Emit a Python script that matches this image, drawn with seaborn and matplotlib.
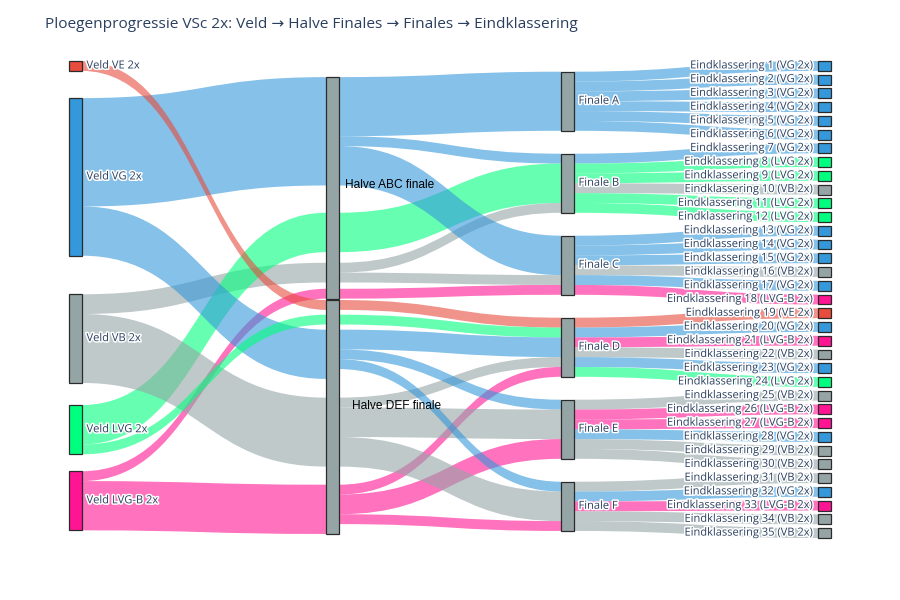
import matplotlib
matplotlib.use("Agg")
import matplotlib.pyplot as plt
import matplotlib.patheffects as pe
from matplotlib.path import Path
from matplotlib.patches import PathPatch, Rectangle
import seaborn as sns

# ---------------- data ----------------
categories = ["VE", "VG", "VB", "LVG", "LVG-B"]
veld_labels = ["Veld VE 2x", "Veld VG 2x", "Veld VB 2x", "Veld LVG 2x", "Veld LVG-B 2x"]
halve_labels = ["Halve ABC finale", "Halve DEF finale"]
veld_to_abc = [0, 11, 2, 4, 1]
veld_to_def = [1, 5, 7, 1, 5]
finale_labels = ["Finale A", "Finale B", "Finale C", "Finale D", "Finale E", "Finale F"]
finale_halve = [0, 0, 0, 1, 1, 1]
finale_sizes = [6, 6, 6, 6, 6, 5]
rank_cats = ["VG", "VG", "VG", "VG", "VG", "VG", "VG", "LVG", "LVG", "VB",
             "LVG", "LVG", "VG", "VG", "VG", "VB", "VG", "LVG-B", "VE", "VG",
             "LVG-B", "VB", "VG", "LVG", "VB", "LVG-B", "LVG-B", "VG", "VB", "VB",
             "VB", "VG", "LVG-B", "VB", "VB"]
title = "Ploegenprogressie VSc 2x: Veld \u2192 Halve Finales \u2192 Finales \u2192 Eindklassering"

# ---------------- style / layout ----------------
cat_colors = {"VE": "#e74c3c", "VG": "#3498db", "VB": "#95a5a6",
              "LVG": "#00ff7f", "LVG-B": "#ff1493"}
mid_node_color = "#95a5a6"
LINK_ALPHA = 0.6
COL_X = [69, 326, 561, 818]
NODE_W = 12.5
TOP, BOTTOM = 61, 538
EIND_PAD = 3.89
FINALE_TOP, FINALE_PAD = 71.7, 22.9
veld_centers = [0.0104, 0.243, 0.582, 0.773, 0.922]     # fraction of [TOP, BOTTOM]
halve_centers = [0.266, 0.7463]
halve_group_order = [["VG", "LVG", "VB", "LVG-B"], ["VE", "LVG", "VG", "VB", "LVG-B"]]
halve_group_gaps = [[2.77, 1.08, 0.64], [0.49, 0.52, 1.9, 1.84]]
halve_label_offset = [(6.5, -3), (13.5, -11)]
TEXT_COLOR = "#2a3f5f"
LABEL_SIZE = 8.0
TITLE_SIZE = 11.1

sns.set_theme(style="white")
plt.rcParams["font.family"] = ["Open Sans", "DejaVu Sans"]

n_eind = len(rank_cats)
ky = (BOTTOM - TOP - (n_eind - 1) * EIND_PAD) / n_eind
H = BOTTOM - TOP

nodes = {}
links = []

# veld nodes
for i, lab in enumerate(veld_labels):
    h = (veld_to_abc[i] + veld_to_def[i]) * ky
    c = TOP + veld_centers[i] * H
    nodes[("veld", i)] = dict(col=0, top=c - h / 2, h=h, color=cat_colors[categories[i]], label=lab)

# halve nodes
halve_vals = [veld_to_abc, veld_to_def]
for j, lab in enumerate(halve_labels):
    h = (sum(halve_vals[j]) + sum(halve_group_gaps[j])) * ky
    c = TOP + halve_centers[j] * H
    nodes[("halve", j)] = dict(col=1, top=c - h / 2, h=h, color=mid_node_color, label=lab)

# finale nodes
y = FINALE_TOP
for f, lab in enumerate(finale_labels):
    h = finale_sizes[f] * ky
    nodes[("fin", f)] = dict(col=2, top=y, h=h, color=mid_node_color, label=lab)
    y += h + FINALE_PAD

# eind nodes
for r, cat in enumerate(rank_cats):
    nodes[("eind", r)] = dict(col=3, top=TOP + r * (ky + EIND_PAD), h=ky,
                              color=cat_colors[cat],
                              label=f"Eindklassering {r + 1} ({cat} 2x)")

# links: veld -> halve
for j in range(2):
    for i, cat in enumerate(categories):
        v = halve_vals[j][i]
        if v > 0:
            links.append(dict(src=("veld", i), tgt=("halve", j), val=v, cat=cat))
# halve -> finale
rank_final = []
for f, s in enumerate(finale_sizes):
    rank_final += [f] * s
for f in range(len(finale_labels)):
    j = finale_halve[f]
    for cat in halve_group_order[j]:
        v = sum(1 for r, c in enumerate(rank_cats) if c == cat and rank_final[r] == f)
        if v > 0:
            links.append(dict(src=("halve", j), tgt=("fin", f), val=v, cat=cat))
# finale -> eind
for r, cat in enumerate(rank_cats):
    links.append(dict(src=("fin", rank_final[r]), tgt=("eind", r), val=1, cat=cat))

# ---------------- link slot positions ----------------
for L in links:
    L["y0"] = None
    L["y1"] = None

# veld out side
for i in range(len(veld_labels)):
    n = nodes[("veld", i)]
    y = n["top"]
    for L in sorted([L for L in links if L["src"] == ("veld", i)], key=lambda L: nodes[L["tgt"]]["top"]):
        L["y0"] = y
        y += L["val"] * ky

# halve in/out sides, grouped by category
for j in range(2):
    n = nodes[("halve", j)]
    y = n["top"]
    gaps = halve_group_gaps[j]
    for k, cat in enumerate(halve_group_order[j]):
        start = y
        for L in links:
            if L["tgt"] == ("halve", j) and L["cat"] == cat:
                L["y1"] = y
                y += L["val"] * ky
        yo = start
        outs = [L for L in links if L["src"] == ("halve", j) and L["cat"] == cat]
        for L in sorted(outs, key=lambda L: nodes[L["tgt"]]["top"]):
            L["y0"] = yo
            yo += L["val"] * ky
        if k < len(gaps):
            y += gaps[k] * ky

# finale in/out sides
for f in range(len(finale_labels)):
    n = nodes[("fin", f)]
    y = n["top"]
    for L in sorted([L for L in links if L["tgt"] == ("fin", f)], key=lambda L: L["y0"]):
        L["y1"] = y
        y += L["val"] * ky
    y = n["top"]
    for L in sorted([L for L in links if L["src"] == ("fin", f)], key=lambda L: nodes[L["tgt"]]["top"]):
        L["y0"] = y
        y += L["val"] * ky

# eind in side
for L in links:
    if L["tgt"][0] == "eind":
        L["y1"] = nodes[L["tgt"]]["top"]

# ---------------- draw ----------------
fig = plt.figure(figsize=(9, 6), dpi=100)
ax = fig.add_axes([0, 0, 1, 1])
ax.set_xlim(0, 900)
ax.set_ylim(600, 0)
ax.axis("off")

for L in links:
    x0 = COL_X[nodes[L["src"]]["col"]] + NODE_W
    x1 = COL_X[nodes[L["tgt"]]["col"]]
    xm = (x0 + x1) / 2
    h = L["val"] * ky
    a0, a1 = L["y0"], L["y1"]
    verts = [(x0, a0), (xm, a0), (xm, a1), (x1, a1),
             (x1, a1 + h), (xm, a1 + h), (xm, a0 + h), (x0, a0 + h), (x0, a0)]
    codes = [Path.MOVETO, Path.CURVE4, Path.CURVE4, Path.CURVE4,
             Path.LINETO, Path.CURVE4, Path.CURVE4, Path.CURVE4, Path.CLOSEPOLY]
    ax.add_patch(PathPatch(Path(verts, codes), facecolor=cat_colors[L["cat"]],
                           alpha=LINK_ALPHA, lw=0, zorder=1))

halo = [pe.withStroke(linewidth=2.2, foreground="white")]
for key, n in nodes.items():
    x = COL_X[n["col"]]
    ax.add_patch(Rectangle((x, n["top"]), NODE_W, n["h"], facecolor=n["color"],
                           edgecolor="#2b2b2b", lw=0.9, zorder=3))
    cy = n["top"] + n["h"] / 2
    if key[0] == "halve":
        dx, dy = halve_label_offset[key[1]]
        ax.text(x + NODE_W + dx, cy + dy, n["label"], fontsize=8.6, color="black",
                va="center", ha="left", family=["Liberation Sans", "DejaVu Sans"], zorder=4)
    elif key[0] == "eind":
        ax.text(x - 4, cy, n["label"], fontsize=LABEL_SIZE, color=TEXT_COLOR, va="center",
                ha="right", path_effects=halo, zorder=4)
    else:
        ax.text(x + NODE_W + 5, cy, n["label"], fontsize=LABEL_SIZE, color=TEXT_COLOR,
                va="center", ha="left", path_effects=halo, zorder=4)

fig.text(45 / 900, 1 - 25 / 600, title, fontsize=TITLE_SIZE, color=TEXT_COLOR,
         va="center", ha="left")

fig.savefig("out.png", dpi=100, facecolor="white")
